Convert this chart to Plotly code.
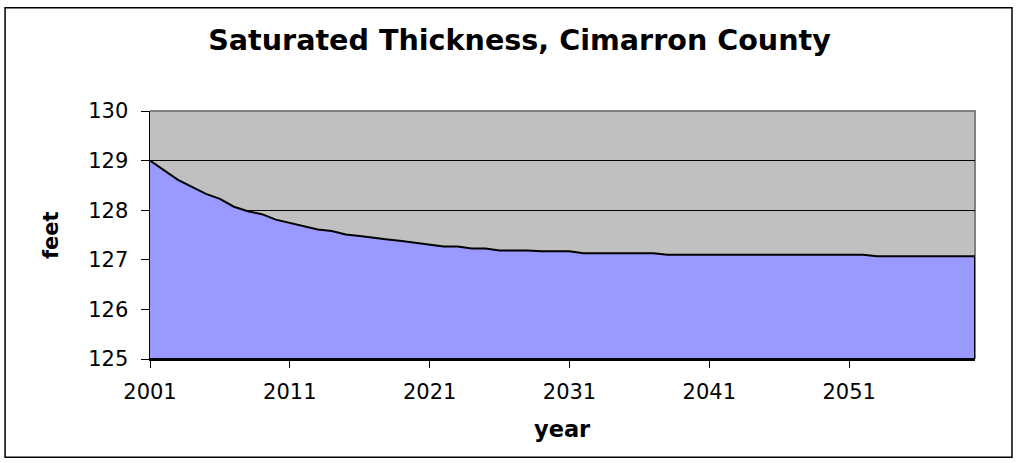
import plotly.graph_objects as go

# ---- data ----
years = list(range(2001, 2061))
thickness = [
    129.00, 128.80, 128.61, 128.47, 128.33, 128.23, 128.07, 127.98, 127.92, 127.81,
    127.74, 127.67, 127.61, 127.58, 127.51, 127.48, 127.44, 127.41, 127.38, 127.34,
    127.31, 127.27, 127.27, 127.23, 127.23, 127.19, 127.19, 127.19, 127.17, 127.17,
    127.17, 127.13, 127.13, 127.13, 127.13, 127.13, 127.13, 127.10, 127.10, 127.10,
    127.10, 127.10, 127.10, 127.10, 127.10, 127.10, 127.10, 127.10, 127.10, 127.10,
    127.10, 127.10, 127.07, 127.07, 127.07, 127.07, 127.07, 127.07, 127.07, 127.07,
]
x_tick_vals = [2001, 2011, 2021, 2031, 2041, 2051]
x_tick_text = ["2001", "2011", "2021", "2031", "2041", "2051"]
y_tick_vals = [125, 126, 127, 128, 129, 130]
y_range = [125, 130]
title_text = "Saturated Thickness, Cimarron County"
x_title = "year"
y_title = "feet"

# closed polygon of the area down to the axis minimum
poly_x = years + [years[-1], years[0]]
poly_y = thickness + [y_range[0], y_range[0]]

FONT = "DejaVu Sans"

fig = go.Figure()
fig.add_trace(go.Scatter(
    x=poly_x, y=poly_y, mode="lines", fill="toself",
    fillcolor="#9999FF", line=dict(color="black", width=2),
    hoverinfo="skip", showlegend=False,
))

W, H = 1018, 463
L, R, T, B = 150, 42.5, 110.5, 104
pw = W - L - R
ph = H - T - B

def px_x(px):
    return (px - L) / pw

def px_y(py):
    return (H - B - py) / ph

fig.update_layout(
    width=W, height=H,
    margin=dict(l=L, r=R, t=T, b=B, pad=0),
    paper_bgcolor="white",
    plot_bgcolor="#C0C0C0",
    showlegend=False,
    hovermode=False,
    title=dict(
        text=title_text, x=519.5 / W, xanchor="center",
        y=1 - 40 / H, yanchor="middle", xref="container", yref="container",
        font=dict(family=FONT, size=28.6, color="black", weight="bold"),
    ),
    xaxis=dict(
        range=[years[0], years[-1]], tickvals=x_tick_vals, ticktext=x_tick_text,
        ticks="outside", ticklen=7, tickcolor="black", tickwidth=1,
        showline=True, linecolor="black", linewidth=1.5,
        showgrid=False, zeroline=False,
        tickfont=dict(family=FONT, size=21, color="black"),
        ticklabelstandoff=6,
    ),
    yaxis=dict(
        range=y_range, tickvals=y_tick_vals,
        ticks="outside", ticklen=8, tickcolor="black", tickwidth=1,
        showline=True, linecolor="black", linewidth=1.5,
        showgrid=True, gridcolor="black", gridwidth=1, zeroline=False,
        tickfont=dict(family=FONT, size=21, color="black"),
        ticklabelstandoff=8,
    ),
    annotations=[
        dict(text=x_title, xref="paper", yref="paper", x=0.5, y=px_y(429),
             xanchor="center", yanchor="middle", showarrow=False,
             font=dict(family=FONT, size=22.5, color="black", weight="bold")),
        dict(text=y_title, xref="paper", yref="paper", x=px_x(51), y=0.5,
             xanchor="center", yanchor="middle", showarrow=False, textangle=-90,
             font=dict(family=FONT, size=21, color="black", weight="bold")),
    ],
    shapes=[
        # outer chart border
        dict(type="rect", xref="paper", yref="paper",
             x0=px_x(5), x1=px_x(1012.5), y0=px_y(457.5), y1=px_y(7),
             line=dict(color="black", width=1.5), fillcolor="rgba(0,0,0,0)",
             layer="below"),
        # top and right plot-area border (gray)
        dict(type="path", xref="paper", yref="paper",
             path="M 0,1 L 1,1 L 1,0",
             line=dict(color="#808080", width=2), layer="between"),
    ],
)

fig.write_html(
    "out.html",
    config={"displayModeBar": False, "staticPlot": True},
    post_script="document.body.style.margin='0px';document.body.style.overflow='hidden';",
)
